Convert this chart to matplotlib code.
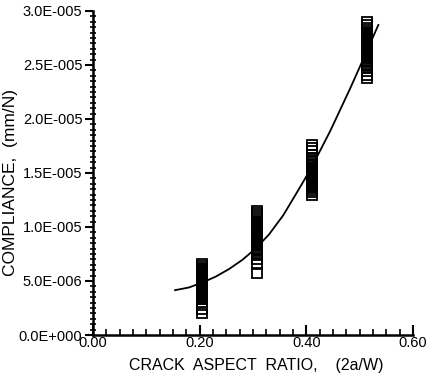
import matplotlib
matplotlib.use("Agg")
import matplotlib.pyplot as plt
from matplotlib.ticker import MultipleLocator, FixedLocator, FixedFormatter

plt.rcParams["font.family"] = ["Liberation Sans", "DejaVu Sans"]

# crack aspect ratio of each specimen group
groups = [0.205, 0.307, 0.410, 0.513]

c_020 = [6.55e-6, 6.4e-6, 6.2e-6, 6.1e-6, 6.0e-6, 5.9e-6, 5.8e-6, 5.7e-6,
         5.6e-6, 5.5e-6, 5.4e-6, 5.3e-6, 5.2e-6, 5.1e-6, 5.0e-6, 4.9e-6,
         4.8e-6, 4.7e-6, 4.6e-6, 4.5e-6, 4.4e-6, 4.3e-6, 4.2e-6, 4.1e-6,
         4.0e-6, 3.9e-6, 3.8e-6, 3.7e-6, 3.6e-6, 3.5e-6, 3.4e-6, 3.3e-6,
         3.1e-6, 2.8e-6, 2.4e-6, 2.0e-6]
c_030 = [1.15e-5, 1.13e-5, 1.11e-5, 1.09e-5, 1.07e-5, 1.05e-5, 1.04e-5,
         1.02e-5, 1.01e-5, 1.0e-5, 9.9e-6, 9.8e-6, 9.7e-6, 9.6e-6, 9.5e-6,
         9.4e-6, 9.3e-6, 9.2e-6, 9.1e-6, 9.0e-6, 8.9e-6, 8.8e-6, 8.7e-6,
         8.6e-6, 8.5e-6, 8.4e-6, 8.3e-6, 8.2e-6, 8.1e-6, 8.0e-6, 7.9e-6,
         7.8e-6, 7.6e-6, 7.4e-6, 7.0e-6, 6.6e-6, 5.7e-6]
c_040 = [1.76e-5, 1.73e-5, 1.70e-5, 1.67e-5, 1.64e-5, 1.62e-5, 1.60e-5,
         1.58e-5, 1.56e-5, 1.55e-5, 1.54e-5, 1.53e-5, 1.52e-5, 1.51e-5,
         1.50e-5, 1.49e-5, 1.48e-5, 1.47e-5, 1.46e-5, 1.45e-5, 1.44e-5,
         1.43e-5, 1.42e-5, 1.41e-5, 1.40e-5, 1.39e-5, 1.38e-5, 1.37e-5,
         1.36e-5, 1.34e-5, 1.32e-5, 1.30e-5]
c_050 = [2.90e-5, 2.87e-5, 2.84e-5, 2.82e-5, 2.80e-5, 2.79e-5, 2.78e-5,
         2.77e-5, 2.76e-5, 2.75e-5, 2.74e-5, 2.73e-5, 2.72e-5, 2.71e-5,
         2.70e-5, 2.69e-5, 2.68e-5, 2.67e-5, 2.66e-5, 2.65e-5, 2.64e-5,
         2.63e-5, 2.62e-5, 2.61e-5, 2.60e-5, 2.59e-5, 2.58e-5, 2.57e-5,
         2.56e-5, 2.55e-5, 2.54e-5, 2.53e-5, 2.51e-5, 2.49e-5, 2.47e-5,
         2.44e-5, 2.41e-5, 2.38e-5]
compliance = [c_020, c_030, c_040, c_050]

# fitted curve
fit_x = [0.154, 0.180, 0.205, 0.230, 0.255, 0.280, 0.305, 0.330, 0.357,
         0.380, 0.398, 0.420, 0.445, 0.463, 0.482, 0.501, 0.518, 0.535]
fit_c = [4.15e-6, 4.40e-6, 4.85e-6, 5.40e-6, 6.10e-6, 6.95e-6, 8.00e-6,
         9.30e-6, 1.11e-5, 1.30e-5, 1.45e-5, 1.65e-5, 1.89e-5, 2.08e-5,
         2.28e-5, 2.49e-5, 2.68e-5, 2.87e-5]

y_ticks = [0.0, 5e-6, 1e-5, 1.5e-5, 2e-5, 2.5e-5, 3e-5]
y_labels = ["0.0E+000", "5.0E-006", "1.0E-005", "1.5E-005",
            "2.0E-005", "2.5E-005", "3.0E-005"]
x_ticks = [0.0, 0.2, 0.4, 0.6]
x_labels = ["0.00", "0.20", "0.40", "0.60"]

fig = plt.figure(figsize=(4.28, 3.76), dpi=100)
ax = fig.add_axes([0.217, 0.109, 0.748, 0.862])

for x, vals in zip(groups, compliance):
    ax.plot([x] * len(vals), vals, linestyle="none", marker="s",
            markersize=7, markerfacecolor="none", markeredgecolor="black",
            markeredgewidth=1.3)

ax.plot(fit_x, fit_c, color="black", linewidth=1.3)

ax.set_xlim(0, 0.6)
ax.set_ylim(0, 3e-5)

ax.spines["top"].set_visible(False)
ax.spines["right"].set_visible(False)
ax.spines["left"].set_linewidth(1.8)
ax.spines["bottom"].set_linewidth(1.8)

ax.xaxis.set_major_locator(FixedLocator(x_ticks))
ax.xaxis.set_major_formatter(FixedFormatter(x_labels))
ax.xaxis.set_minor_locator(MultipleLocator(0.025))
ax.yaxis.set_major_locator(FixedLocator(y_ticks))
ax.yaxis.set_major_formatter(FixedFormatter(y_labels))
ax.yaxis.set_minor_locator(MultipleLocator(5e-7))

ax.tick_params(axis="x", which="major", direction="in", length=7, width=1.5,
               labelsize=10.5, pad=1)
ax.tick_params(axis="x", which="minor", direction="in", length=4, width=1.2)
ax.tick_params(axis="y", which="major", direction="out", length=6, width=1.5,
               labelsize=10.5, pad=1.5)
ax.tick_params(axis="y", which="minor", direction="inout", length=5, width=1.2)

ax.set_xlabel("CRACK  ASPECT  RATIO,    (2a/W)", fontsize=11.5)
ax.xaxis.set_label_coords(0.51, -0.072)
ax.set_ylabel("COMPLIANCE,  (mm/N)", fontsize=12.5)
ax.yaxis.set_label_coords(-0.235, 0.47)

plt.savefig("out.png", dpi=100)
